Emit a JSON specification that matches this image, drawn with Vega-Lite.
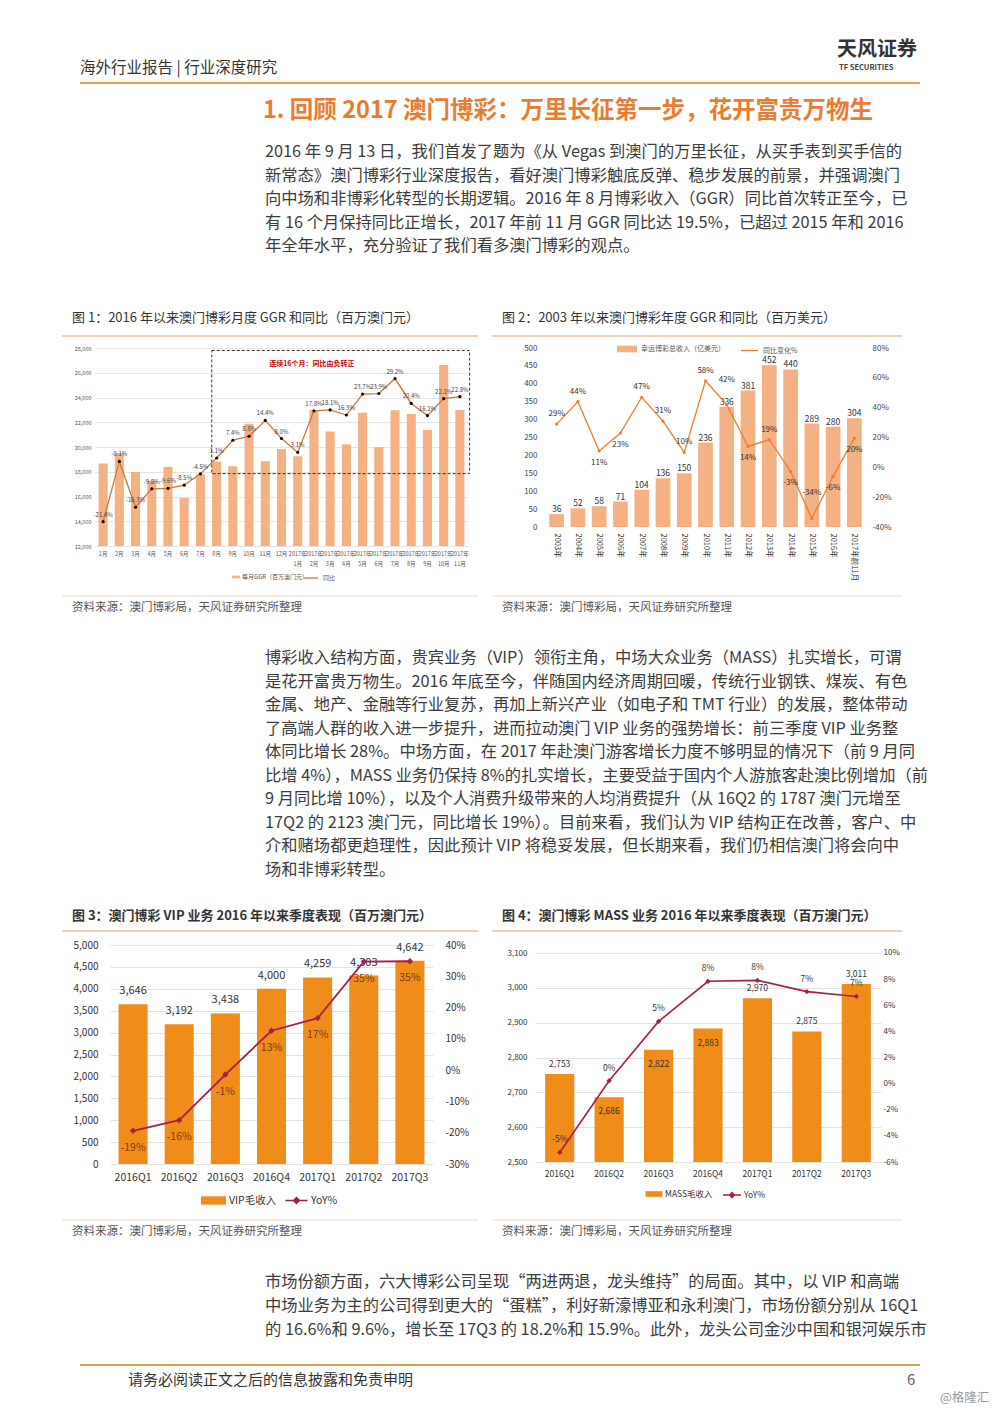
{
"$schema": "https://vega.github.io/schema/vega-lite/v6.json",
"padding": 0,
"background": "white",
"bounds": "flush",
"spacing": 0,
"config": {
  "view": {"stroke": null},
  "font": "Noto Sans CJK SC",
  "locale": {"number": {"decimal": ".", "thousands": ",", "grouping": [3], "currency": ["$", ""], "minus": "-"}},
  "axis": {"domain": false, "ticks": false, "labelFont": "Noto Sans CJK SC", "title": null},
  "legend": {"labelFont": "Noto Sans CJK SC"},
  "text": {"font": "Noto Sans CJK SC"}
},
"vconcat": [
{
  "width": 1000, "height": 348,
  "data": {"values": [{}]},
  "layer": [
    {"mark": {"type": "text", "text": "海外行业报告 | 行业深度研究", "x": 80, "y": 68, "align": "left", "baseline": "middle", "fontSize": 15.5, "color": "#333"}, "encoding": {}},
    {"mark": {"type": "text", "text": "天风证券", "x": 837, "y": 50, "align": "left", "baseline": "middle", "fontSize": 20, "fontWeight": "bold", "color": "#333"}, "encoding": {}},
    {"mark": {"type": "text", "text": "TF SECURITIES", "x": 839, "y": 68, "align": "left", "baseline": "middle", "fontSize": 7.5, "fontWeight": "bold", "color": "#444"}, "encoding": {}},
    {"mark": {"type": "rule", "color": "#eb9d55", "strokeWidth": 2}, "encoding": {"x": {"value": 80}, "x2": {"value": 920}, "y": {"value": 83}}},
    {"mark": {"type": "text", "text": "1. 回顾 2017 澳门博彩：万里长征第一步，花开富贵万物生", "x": 263, "y": 111, "align": "left", "baseline": "middle", "fontSize": 23.5, "fontWeight": "bold", "color": "#e97c30"}, "encoding": {}},
    {
      "data": {"values": [
        {"i": 0, "t": "2016 年 9 月 13 日，我们首发了题为《从 Vegas 到澳门的万里长征，从买手表到买手信的"},
        {"i": 1, "t": "新常态》澳门博彩行业深度报告，看好澳门博彩触底反弹、稳步发展的前景，并强调澳门"},
        {"i": 2, "t": "向中场和非博彩化转型的长期逻辑。2016 年 8 月博彩收入（GGR）同比首次转正至今，已"},
        {"i": 3, "t": "有 16 个月保持同比正增长，2017 年前 11 月 GGR 同比达 19.5%，已超过 2015 年和 2016"},
        {"i": 4, "t": "年全年水平，充分验证了我们看多澳门博彩的观点。"}
      ]},
      "mark": {"type": "text", "x": 265, "align": "left", "baseline": "middle", "fontSize": 16.3, "color": "#3c3c3c"},
      "encoding": {
        "y": {"field": "i", "type": "quantitative", "scale": {"domain": [0, 4], "range": [152, 246]}, "axis": null},
        "text": {"field": "t"}
      }
    },
    {"mark": {"type": "text", "text": "图 1：2016 年以来澳门博彩月度 GGR 和同比（百万澳门元）", "x": 72, "y": 318, "align": "left", "baseline": "middle", "fontSize": 13, "color": "#333"}, "encoding": {}},
    {"mark": {"type": "text", "text": "图 2：2003 年以来澳门博彩年度 GGR 和同比（百万美元）", "x": 502, "y": 318, "align": "left", "baseline": "middle", "fontSize": 13, "color": "#333"}, "encoding": {}},
    {"mark": {"type": "rule", "color": "#e8c39e", "strokeWidth": 1.5}, "encoding": {"x": {"value": 62}, "x2": {"value": 478}, "y": {"value": 336}}},
    {"mark": {"type": "rule", "color": "#e8c39e", "strokeWidth": 1.5}, "encoding": {"x": {"value": 492}, "x2": {"value": 902}, "y": {"value": 336}}}
  ]
},
{
  "spacing": 0,
  "bounds": "flush",
  "hconcat": [
    {"width": 95, "height": 10, "data": {"values": [{}]}, "mark": {"type": "point", "opacity": 0}},
    {
      "width": 373, "height": 198,
      "data": {"values": [
        {"m": "1月", "ggr": 18673, "yoy": -0.214},
        {"m": "2月", "ggr": 19523, "yoy": -0.001},
        {"m": "3月", "ggr": 17981, "yoy": -0.163},
        {"m": "4月", "ggr": 17279, "yoy": -0.098},
        {"m": "5月", "ggr": 18389, "yoy": -0.096},
        {"m": "6月", "ggr": 15881, "yoy": -0.085},
        {"m": "7月", "ggr": 17807, "yoy": -0.045},
        {"m": "8月", "ggr": 18838, "yoy": 0.011},
        {"m": "9月", "ggr": 18446, "yoy": 0.074},
        {"m": "10月", "ggr": 21882, "yoy": 0.088},
        {"m": "11月", "ggr": 18843, "yoy": 0.144},
        {"m": "12月", "ggr": 19846, "yoy": 0.080},
        {"m": "2017年1月", "ggr": 19254, "yoy": 0.031},
        {"m": "2017年2月", "ggr": 22987, "yoy": 0.178},
        {"m": "2017年3月", "ggr": 21244, "yoy": 0.181},
        {"m": "2017年4月", "ggr": 20194, "yoy": 0.163},
        {"m": "2017年5月", "ggr": 22765, "yoy": 0.237},
        {"m": "2017年6月", "ggr": 19988, "yoy": 0.239},
        {"m": "2017年7月", "ggr": 22964, "yoy": 0.292},
        {"m": "2017年8月", "ggr": 22676, "yoy": 0.204},
        {"m": "2017年9月", "ggr": 21368, "yoy": 0.161},
        {"m": "2017年10月", "ggr": 26634, "yoy": 0.221},
        {"m": "2017年11月", "ggr": 22991, "yoy": 0.228}
      ]},
      "layer": [
        {
          "mark": {"type": "bar", "clip": true},
          "encoding": {
            "x": {"field": "m", "type": "nominal", "sort": null, "scale": {"paddingInner": 0.44, "paddingOuter": 0.22},
                  "axis": {"title": null, "labelAngle": 0, "labelFontSize": 5.5, "labelColor": "#555", "labelPadding": 5, "labelLineHeight": 10,
                           "labelExpr": "indexof(datum.label, '年') > 0 ? [slice(datum.label, 0, 5), slice(datum.label, 5)] : datum.label"}},
            "y": {"field": "ggr", "type": "quantitative", "scale": {"domain": [12000, 28000], "zero": false, "nice": false},
                  "axis": {"title": null, "values": [12000, 14000, 16000, 18000, 20000, 22000, 24000, 26000, 28000], "format": ",d", "labelFontSize": 5.5, "labelColor": "#555", "labelPadding": 4, "grid": true, "gridColor": "#e6e6e6"}},
            "color": {"datum": "每月GGR（百万澳门元）", "scale": {"range": ["#f4b183"]},
                      "legend": {"orient": "none", "legendX": 138, "legendY": 226, "title": null, "symbolType": "M-1.5,-0.5H1.5V0.5H-1.5Z", "symbolSize": 28, "labelFontSize": 6, "labelColor": "#555", "labelOffset": 3, "padding": 0, "symbolStrokeWidth": 0}}
          }
        },
        {
          "data": {"values": [{"x0": 7.2, "x1": 23.1, "lo": 17850, "hi": 27800}]},
          "encoding": {
            "x": {"field": "x0", "type": "quantitative", "scale": {"domain": [0, 23], "nice": false, "zero": false}, "axis": null},
            "y": {"field": "lo", "type": "quantitative", "scale": {"domain": [12000, 28000], "zero": false, "nice": false}, "axis": null}
          },
          "layer": [
            {"mark": {"type": "rect", "fillOpacity": 0, "fill": "white", "stroke": "#333", "strokeDash": [3, 2], "strokeWidth": 1},
             "encoding": {"x2": {"field": "x1"}, "y2": {"field": "hi"}}},
            {"mark": {"type": "text", "text": "连续16个月：同比由负转正", "dx": 100, "dy": 14, "color": "#c00000", "fontSize": 7, "fontWeight": "bold", "baseline": "middle"},
             "encoding": {"y": {"field": "hi", "type": "quantitative"}}}
          ]
        },
        {
          "encoding": {
            "x": {"field": "m", "type": "nominal", "sort": null, "axis": null},
            "y": {"field": "yoy", "type": "quantitative", "scale": {"domain": [-0.3, 0.4], "zero": false, "nice": false}, "axis": null}
          },
          "layer": [
            {"mark": {"type": "line", "strokeWidth": 1.3},
             "encoding": {"color": {"datum": "同比", "scale": {"range": ["#c9783a"]},
                          "legend": {"orient": "none", "legendX": 208, "legendY": 222, "title": null, "symbolType": "stroke", "symbolSize": 196, "symbolStrokeWidth": 1.3, "labelFontSize": 6, "labelColor": "#555", "padding": 0}}}},
            {"mark": {"type": "point", "filled": true, "color": "#000", "size": 10, "opacity": 1}},
            {"mark": {"type": "text", "dy": -7, "fontSize": 6, "color": "#444", "baseline": "middle"},
             "encoding": {"text": {"field": "yoy", "format": ".1%"}}}
          ]
        }
      ],
      "resolve": {"scale": {"x": "independent", "y": "independent", "color": "independent"}, "legend": {"color": "independent"}}
    },
    {"width": 78, "height": 10, "data": {"values": [{}]}, "mark": {"type": "point", "opacity": 0}},
    {
      "width": 319, "height": 179,
      "data": {"values": [
        {"yr": "2003年", "ggr": 36, "yoy": 0.29},
        {"yr": "2004年", "ggr": 52, "yoy": 0.44},
        {"yr": "2005年", "ggr": 58, "yoy": 0.11},
        {"yr": "2006年", "ggr": 71, "yoy": 0.23},
        {"yr": "2007年", "ggr": 104, "yoy": 0.47},
        {"yr": "2008年", "ggr": 136, "yoy": 0.31},
        {"yr": "2009年", "ggr": 150, "yoy": 0.10},
        {"yr": "2010年", "ggr": 236, "yoy": 0.58},
        {"yr": "2011年", "ggr": 336, "yoy": 0.42},
        {"yr": "2012年", "ggr": 381, "yoy": 0.14},
        {"yr": "2013年", "ggr": 452, "yoy": 0.186},
        {"yr": "2014年", "ggr": 440, "yoy": -0.026},
        {"yr": "2015年", "ggr": 289, "yoy": -0.343},
        {"yr": "2016年", "ggr": 280, "yoy": -0.06},
        {"yr": "2017年前11月", "ggr": 304, "yoy": 0.196}
      ]},
      "layer": [
        {
          "encoding": {
            "x": {"field": "yr", "type": "nominal", "sort": null, "scale": {"paddingInner": 0.31, "paddingOuter": 0.155},
                  "axis": {"title": null, "labelAngle": 90, "labelFontSize": 7.5, "labelColor": "#333", "labelPadding": 6}},
            "y": {"field": "ggr", "type": "quantitative", "scale": {"domain": [0, 500], "nice": false},
                  "axis": {"title": null, "values": [0, 50, 100, 150, 200, 250, 300, 350, 400, 450, 500], "labelFontSize": 8, "labelColor": "#444", "labelPadding": 9, "grid": false}}
          },
          "layer": [
            {"mark": {"type": "bar"},
             "encoding": {"color": {"datum": "幸运博彩总收入（亿美元）", "scale": {"range": ["#f4b183"]},
                          "legend": {"orient": "none", "legendX": 74, "legendY": -6, "title": null, "symbolType": "M-1.5,-0.5H1.5V0.5H-1.5Z", "symbolSize": 178, "labelFontSize": 7, "labelColor": "#555", "labelOffset": 7, "padding": 0, "symbolStrokeWidth": 0}}}},
            {"mark": {"type": "text", "baseline": "middle", "dy": -5, "fontSize": 8.5, "color": "#333"},
             "encoding": {"text": {"field": "ggr"}}}
          ]
        },
        {
          "encoding": {
            "x": {"field": "yr", "type": "nominal", "sort": null},
            "y": {"field": "yoy", "type": "quantitative", "scale": {"domain": [-0.4, 0.8], "nice": false, "zero": false},
                  "axis": {"orient": "right", "title": null, "values": [-0.4, -0.2, 0, 0.2, 0.4, 0.6, 0.8], "format": ".0%", "labelFontSize": 8, "labelColor": "#444", "labelPadding": 7, "grid": false}}
          },
          "layer": [
            {"mark": {"type": "line", "strokeWidth": 1.3},
             "encoding": {"color": {"datum": "同比变化%", "scale": {"range": ["#ed7d31"]},
                          "legend": {"orient": "none", "legendX": 194, "legendY": -7, "title": null, "symbolType": "stroke", "symbolSize": 289, "symbolStrokeWidth": 1.3, "labelFontSize": 7, "labelColor": "#555", "padding": 0}}}},
            {"mark": {"type": "point", "filled": true, "color": "#ed7d31", "size": 10, "opacity": 1}},
            {"transform": [{"filter": {"not": {"field": "yr", "oneOf": ["2005年", "2006年", "2011年", "2012年", "2014年", "2015年", "2016年", "2017年前11月"]}}}],
             "mark": {"type": "text", "dy": -10, "fontSize": 8, "color": "#333", "baseline": "middle"},
             "encoding": {"text": {"field": "yoy", "format": ".0%"}}},
            {"transform": [{"filter": {"field": "yr", "oneOf": ["2011年", "2015年"]}}],
             "mark": {"type": "text", "dy": -25, "fontSize": 8, "color": "#333", "baseline": "middle"},
             "encoding": {"text": {"field": "yoy", "format": ".0%"}}},
            {"transform": [{"filter": {"field": "yr", "oneOf": ["2005年", "2006年", "2012年", "2014年", "2016年", "2017年前11月"]}}],
             "mark": {"type": "text", "dy": 12, "fontSize": 8, "color": "#333", "baseline": "middle"},
             "encoding": {"text": {"field": "yoy", "format": ".0%"}}}
          ]
        }
      ],
      "resolve": {"scale": {"y": "independent", "color": "independent"}, "legend": {"color": "independent"}}
    }
  ]
},
{
  "width": 1000, "height": 597,
  "data": {"values": [{}]},
  "layer": [
    {"mark": {"type": "rule", "color": "#ecdcca", "strokeWidth": 1}, "encoding": {"x": {"value": 62}, "x2": {"value": 478}, "y": {"value": 248}}},
    {"mark": {"type": "rule", "color": "#ecdcca", "strokeWidth": 1}, "encoding": {"x": {"value": 492}, "x2": {"value": 902}, "y": {"value": 248}}},
    {"mark": {"type": "text", "text": "资料来源：澳门博彩局，天风证券研究所整理", "x": 72, "y": 260, "align": "left", "baseline": "middle", "fontSize": 11.5, "color": "#555"}, "encoding": {}},
    {"mark": {"type": "text", "text": "资料来源：澳门博彩局，天风证券研究所整理", "x": 502, "y": 260, "align": "left", "baseline": "middle", "fontSize": 11.5, "color": "#555"}, "encoding": {}},
    {
      "data": {"values": [
        {"i": 0, "t": "博彩收入结构方面，贵宾业务（VIP）领衔主角，中场大众业务（MASS）扎实增长，可谓"},
        {"i": 1, "t": "是花开富贵万物生。2016 年底至今，伴随国内经济周期回暖，传统行业钢铁、煤炭、有色"},
        {"i": 2, "t": "金属、地产、金融等行业复苏，再加上新兴产业（如电子和 TMT 行业）的发展，整体带动"},
        {"i": 3, "t": "了高端人群的收入进一步提升，进而拉动澳门 VIP 业务的强势增长：前三季度 VIP 业务整"},
        {"i": 4, "t": "体同比增长 28%。中场方面，在 2017 年赴澳门游客增长力度不够明显的情况下（前 9 月同"},
        {"i": 5, "t": "比增 4%），MASS 业务仍保持 8%的扎实增长，主要受益于国内个人游旅客赴澳比例增加（前"},
        {"i": 6, "t": "9 月同比增 10%），以及个人消费升级带来的人均消费提升（从 16Q2 的 1787 澳门元增至"},
        {"i": 7, "t": "17Q2 的 2123 澳门元，同比增长 19%）。目前来看，我们认为 VIP 结构正在改善，客户、中"},
        {"i": 8, "t": "介和赌场都更趋理性，因此预计 VIP 将稳妥发展，但长期来看，我们仍相信澳门将会向中"},
        {"i": 9, "t": "场和非博彩转型。"}
      ]},
      "mark": {"type": "text", "x": 265, "align": "left", "baseline": "middle", "fontSize": 16.3, "color": "#3c3c3c"},
      "encoding": {
        "y": {"field": "i", "type": "quantitative", "scale": {"domain": [0, 9], "range": [310, 522]}, "axis": null},
        "text": {"field": "t"}
      }
    },
    {"mark": {"type": "text", "text": "图 3：澳门博彩 VIP 业务 2016 年以来季度表现（百万澳门元）", "x": 72, "y": 568, "align": "left", "baseline": "middle", "fontSize": 13, "fontWeight": "bold", "color": "#333"}, "encoding": {}},
    {"mark": {"type": "text", "text": "图 4：澳门博彩 MASS 业务 2016 年以来季度表现（百万澳门元）", "x": 502, "y": 568, "align": "left", "baseline": "middle", "fontSize": 13, "fontWeight": "bold", "color": "#333"}, "encoding": {}},
    {"mark": {"type": "rule", "color": "#e8c39e", "strokeWidth": 1.5}, "encoding": {"x": {"value": 62}, "x2": {"value": 478}, "y": {"value": 583}}},
    {"mark": {"type": "rule", "color": "#e8c39e", "strokeWidth": 1.5}, "encoding": {"x": {"value": 492}, "x2": {"value": 902}, "y": {"value": 583}}}
  ]
},
{
  "spacing": 0,
  "bounds": "flush",
  "hconcat": [
    {"width": 110, "height": 10, "data": {"values": [{}]}, "mark": {"type": "point", "opacity": 0}},
    {
      "width": 323, "height": 219,
      "data": {"values": [
        {"q": "2016Q1", "v": 3646, "yoy": -0.194},
        {"q": "2016Q2", "v": 3192, "yoy": -0.160},
        {"q": "2016Q3", "v": 3438, "yoy": -0.014},
        {"q": "2016Q4", "v": 4000, "yoy": 0.126},
        {"q": "2017Q1", "v": 4259, "yoy": 0.166},
        {"q": "2017Q2", "v": 4303, "yoy": 0.347},
        {"q": "2017Q3", "v": 4642, "yoy": 0.348}
      ]},
      "layer": [
        {
          "encoding": {
            "x": {"field": "q", "type": "nominal", "sort": null, "scale": {"paddingInner": 0.37, "paddingOuter": 0.185},
                  "axis": {"title": null, "labelAngle": 0, "labelFontSize": 10.5, "labelColor": "#333", "labelPadding": 8}},
            "y": {"field": "v", "type": "quantitative", "scale": {"domain": [0, 5000], "nice": false},
                  "axis": {"title": null, "values": [0, 500, 1000, 1500, 2000, 2500, 3000, 3500, 4000, 4500, 5000], "format": ",d", "labelFontSize": 10, "labelColor": "#333", "labelPadding": 12, "grid": true, "gridColor": "#e3e3e3"}}
          },
          "layer": [
            {"mark": {"type": "bar"},
             "encoding": {"color": {"datum": "VIP毛收入", "scale": {"range": ["#f08c1a"]},
                          "legend": {"orient": "none", "legendX": 95, "legendY": 247, "title": null, "symbolType": "M-1.5,-0.5H1.5V0.5H-1.5Z", "symbolSize": 278, "labelFontSize": 10.5, "labelColor": "#333", "labelOffset": 7, "padding": 0, "symbolStrokeWidth": 0}}}},
            {"mark": {"type": "text", "baseline": "middle", "dy": -13, "fontSize": 11, "color": "#333"},
             "encoding": {"text": {"field": "v", "format": ","}}}
          ]
        },
        {
          "encoding": {
            "x": {"field": "q", "type": "nominal", "sort": null},
            "y": {"field": "yoy", "type": "quantitative", "scale": {"domain": [-0.3, 0.4], "nice": false, "zero": false},
                  "axis": {"orient": "right", "title": null, "values": [-0.3, -0.2, -0.1, 0, 0.1, 0.2, 0.3, 0.4], "format": ".0%", "labelFontSize": 10, "labelColor": "#333", "labelPadding": 12, "grid": false}}
          },
          "layer": [
            {"mark": {"type": "line", "strokeWidth": 1.8},
             "encoding": {"color": {"datum": "YoY%", "scale": {"range": ["#a91d47"]},
                          "legend": {"orient": "none", "legendX": 178, "legendY": 247, "title": null, "symbolType": "M-1.5,0H1.5M-0.4,0L0,-0.4L0.4,0L0,0.4Z", "symbolSize": 215, "symbolStrokeWidth": 1.5, "symbolFillColor": "#a91d47", "labelFontSize": 10.5, "labelColor": "#333", "labelOffset": 6, "padding": 0}}}},
            {"mark": {"type": "point", "shape": "diamond", "filled": true, "color": "#a91d47", "size": 40, "opacity": 1}},
            {"mark": {"type": "text", "dy": 17, "fontSize": 10.5, "color": "#7b3a10", "baseline": "middle"},
             "encoding": {"text": {"field": "yoy", "format": ".0%"}}}
          ]
        }
      ],
      "resolve": {"scale": {"y": "independent", "color": "independent"}, "legend": {"color": "independent"}}
    },
    {"width": 102, "height": 10, "data": {"values": [{}]}, "mark": {"type": "point", "opacity": 0}},
    {
      "width": 346, "height": 217,
      "data": {"values": [
        {"q": "2016Q1", "v": 2753, "yoy": -0.0527},
        {"q": "2016Q2", "v": 2686, "yoy": 0.0022},
        {"q": "2016Q3", "v": 2822, "yoy": 0.0476},
        {"q": "2016Q4", "v": 2883, "yoy": 0.0783},
        {"q": "2017Q1", "v": 2970, "yoy": 0.079},
        {"q": "2017Q2", "v": 2875, "yoy": 0.0704},
        {"q": "2017Q3", "v": 3011, "yoy": 0.0667}
      ]},
      "layer": [
        {
          "encoding": {
            "x": {"field": "q", "type": "nominal", "sort": null, "scale": {"paddingInner": 0.41, "paddingOuter": 0.205},
                  "axis": {"title": null, "labelAngle": 0, "labelFontSize": 8.5, "labelColor": "#333", "labelPadding": 7}},
            "y": {"field": "v", "type": "quantitative", "scale": {"domain": [2500, 3123], "nice": false, "zero": false},
                  "axis": {"title": null, "values": [2500, 2600, 2700, 2800, 2900, 3000, 3100], "format": ",d", "labelFontSize": 8, "labelColor": "#333", "labelPadding": 8, "grid": true, "gridColor": "#e3e3e3"}}
          },
          "layer": [
            {"mark": {"type": "bar", "clip": true},
             "encoding": {"color": {"datum": "MASS毛收入", "scale": {"range": ["#f08c1a"]},
                          "legend": {"orient": "none", "legendX": 113, "legendY": 243, "title": null, "symbolType": "M-1.5,-0.5H1.5V0.5H-1.5Z", "symbolSize": 128, "labelFontSize": 8.5, "labelColor": "#333", "labelOffset": 5, "padding": 0, "symbolStrokeWidth": 0}}}},
            {"transform": [{"filter": {"field": "q", "oneOf": ["2016Q1", "2017Q1", "2017Q2", "2017Q3"]}}],
             "mark": {"type": "text", "baseline": "middle", "dy": -10, "fontSize": 8.5, "color": "#333"},
             "encoding": {"text": {"field": "v", "format": ","}}},
            {"transform": [{"filter": {"field": "q", "oneOf": ["2016Q2", "2016Q3", "2016Q4"]}}],
             "mark": {"type": "text", "baseline": "middle", "dy": 14, "fontSize": 8.5, "color": "#333"},
             "encoding": {"text": {"field": "v", "format": ","}}}
          ]
        },
        {
          "encoding": {
            "x": {"field": "q", "type": "nominal", "sort": null},
            "y": {"field": "yoy", "type": "quantitative", "scale": {"domain": [-0.06, 0.1061], "nice": false, "zero": false},
                  "axis": {"orient": "right", "title": null, "values": [-0.06, -0.04, -0.02, 0, 0.02, 0.04, 0.06, 0.08, 0.1], "format": ".0%", "labelFontSize": 8, "labelColor": "#333", "labelPadding": 2, "grid": false}}
          },
          "layer": [
            {"mark": {"type": "line", "strokeWidth": 1.6},
             "encoding": {"color": {"datum": "YoY%", "scale": {"range": ["#a91d47"]},
                          "legend": {"orient": "none", "legendX": 190, "legendY": 243, "title": null, "symbolType": "M-1.5,0H1.5M-0.4,0L0,-0.4L0.4,0L0,0.4Z", "symbolSize": 144, "symbolStrokeWidth": 1.4, "symbolFillColor": "#a91d47", "labelFontSize": 8.5, "labelColor": "#333", "labelOffset": 5, "padding": 0}}}},
            {"mark": {"type": "point", "shape": "diamond", "filled": true, "color": "#a91d47", "size": 28, "opacity": 1}},
            {"mark": {"type": "text", "dy": -13, "fontSize": 8.5, "color": "#333", "baseline": "middle"},
             "encoding": {"text": {"field": "yoy", "format": ".0%"}}}
          ]
        }
      ],
      "resolve": {"scale": {"y": "independent", "color": "independent"}, "legend": {"color": "independent"}}
    }
  ]
},
{
  "width": 1000, "height": 468,
  "data": {"values": [{}]},
  "layer": [
    {"mark": {"type": "rule", "color": "#ecdcca", "strokeWidth": 1}, "encoding": {"x": {"value": 62}, "x2": {"value": 478}, "y": {"value": 275}}},
    {"mark": {"type": "rule", "color": "#ecdcca", "strokeWidth": 1}, "encoding": {"x": {"value": 492}, "x2": {"value": 902}, "y": {"value": 275}}},
    {"mark": {"type": "text", "text": "资料来源：澳门博彩局，天风证券研究所整理", "x": 72, "y": 287, "align": "left", "baseline": "middle", "fontSize": 11.5, "color": "#555"}, "encoding": {}},
    {"mark": {"type": "text", "text": "资料来源：澳门博彩局，天风证券研究所整理", "x": 502, "y": 287, "align": "left", "baseline": "middle", "fontSize": 11.5, "color": "#555"}, "encoding": {}},
    {
      "data": {"values": [
        {"i": 0, "t": "市场份额方面，六大博彩公司呈现“两进两退，龙头维持”的局面。其中，以 VIP 和高端"},
        {"i": 1, "t": "中场业务为主的公司得到更大的“蛋糕”，利好新濠博亚和永利澳门，市场份额分别从 16Q1"},
        {"i": 2, "t": "的 16.6%和 9.6%，增长至 17Q3 的 18.2%和 15.9%。此外，龙头公司金沙中国和银河娱乐市"}
      ]},
      "mark": {"type": "text", "x": 265, "align": "left", "baseline": "middle", "fontSize": 16.3, "color": "#3c3c3c"},
      "encoding": {
        "y": {"field": "i", "type": "quantitative", "scale": {"domain": [0, 2], "range": [337, 385]}, "axis": null},
        "text": {"field": "t"}
      }
    },
    {"mark": {"type": "rule", "color": "#d8a048", "strokeWidth": 2}, "encoding": {"x": {"value": 80}, "x2": {"value": 920}, "y": {"value": 420}}},
    {"mark": {"type": "text", "text": "请务必阅读正文之后的信息披露和免责申明", "x": 128, "y": 435, "align": "left", "baseline": "middle", "fontSize": 15, "color": "#333"}, "encoding": {}},
    {"mark": {"type": "text", "text": "6", "x": 907, "y": 435, "align": "left", "baseline": "middle", "fontSize": 15, "color": "#666"}, "encoding": {}},
    {"mark": {"type": "text", "text": "@格隆汇", "x": 940, "y": 453, "align": "left", "baseline": "middle", "fontSize": 12.5, "color": "#999"}, "encoding": {}}
  ]
}
]
}
